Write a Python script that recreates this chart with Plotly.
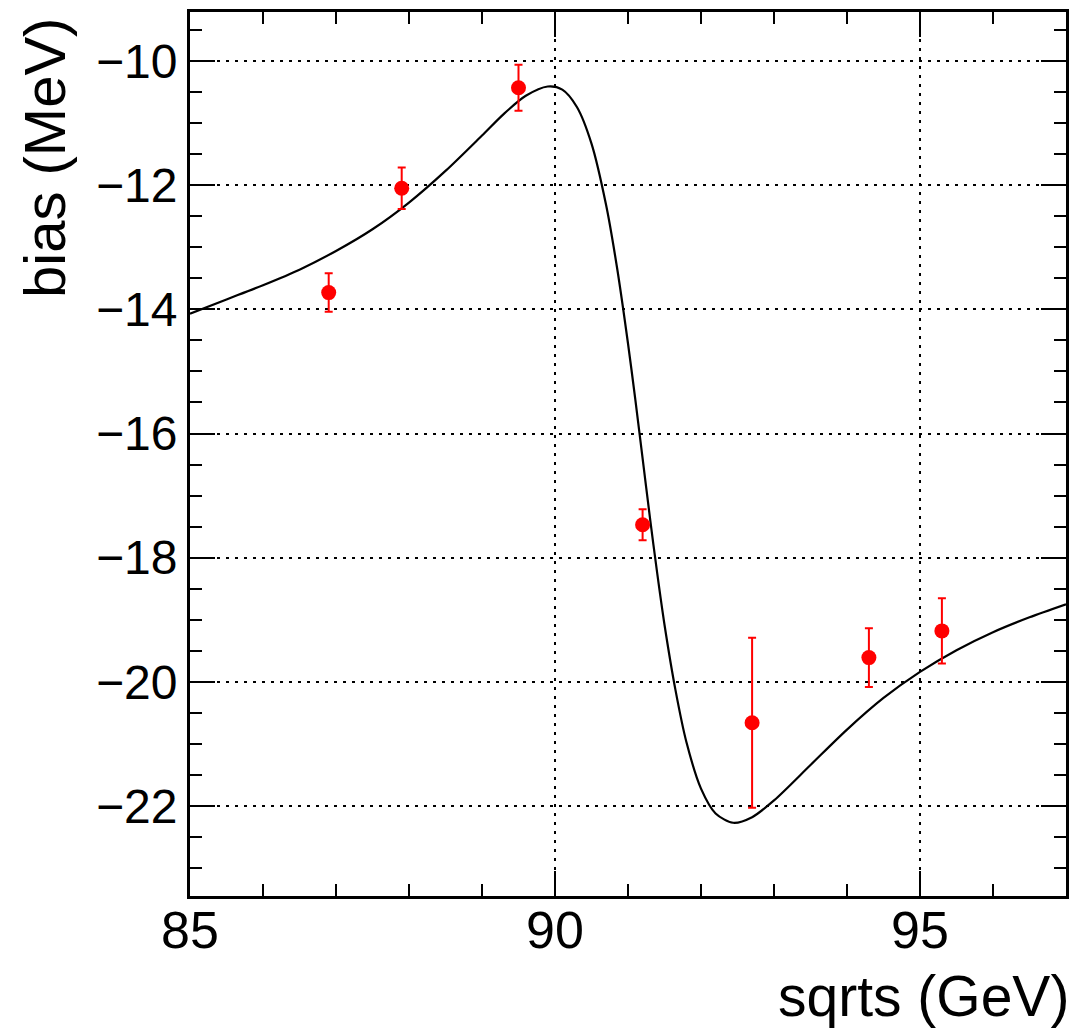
import plotly.graph_objects as go

# Measured points
sqrts = [86.9, 87.9, 89.5, 91.2, 92.7, 94.3, 95.3]
bias = [-13.73, -12.05, -10.43, -17.47, -20.66, -19.61, -19.18]
bias_err = [0.31, 0.335, 0.37, 0.25, 1.37, 0.475, 0.525]

# Fitted curve
fit_x = [85.0, 85.5, 86.0, 86.5, 87.0, 87.5, 88.0, 88.5, 89.0, 89.3, 89.6, 89.9,
         90.1, 90.3, 90.5, 90.7, 90.85, 91.0, 91.1, 91.2, 91.3, 91.4, 91.5, 91.65,
         91.8, 92.0, 92.2, 92.44, 92.7, 93.0, 93.5, 94.0, 94.5, 95.0, 95.5, 96.0,
         96.5, 97.0]
fit_y = [-14.07, -13.84, -13.61, -13.36, -13.06, -12.71, -12.28, -11.77, -11.20,
         -10.85, -10.56, -10.41, -10.46, -10.74, -11.33, -12.32, -13.33, -14.55,
         -15.45, -16.40, -17.35, -18.25, -19.08, -20.13, -20.97, -21.72, -22.12,
         -22.27, -22.18, -21.91, -21.34, -20.77, -20.26, -19.84, -19.49, -19.20,
         -18.96, -18.75]

x_range = [85, 97]
y_range = [-23.45, -9.21]

FONT = "Liberation Sans, Arial, Helvetica, sans-serif"

fig = go.Figure()
fig.add_trace(go.Scatter(
    x=fit_x, y=fit_y, mode="lines",
    line=dict(color="black", width=2.2, shape="spline", smoothing=0.8),
    hoverinfo="skip", showlegend=False))
fig.add_trace(go.Scatter(
    x=sqrts, y=bias, mode="markers",
    marker=dict(color="red", size=15, symbol="circle"),
    error_y=dict(type="data", array=bias_err, color="red", thickness=2, width=4),
    showlegend=False))

axis_common = dict(
    showline=True, linecolor="black", linewidth=3, mirror="ticks",
    ticks="inside", tickcolor="black", tickwidth=2, ticklen=25,
    showgrid=True, gridcolor="black", gridwidth=2, griddash="3px,6px",
    zeroline=False,
)

fig.update_xaxes(
    range=x_range, dtick=5, tick0=85,
    tickfont=dict(family=FONT, size=52, color="black"),
    ticklabelstandoff=-13,
    minor=dict(dtick=1, ticks="inside", ticklen=12, tickwidth=2, tickcolor="black", showgrid=False),
    **axis_common)
fig.update_yaxes(
    range=y_range, dtick=2, tick0=-10,
    tickfont=dict(family=FONT, size=48, color="black"),
    minor=dict(dtick=0.5, ticks="inside", ticklen=12, tickwidth=2, tickcolor="black", showgrid=False),
    **axis_common)

fig.add_annotation(text="sqrts (GeV)", xref="paper", yref="paper",
                   x=1.006, y=-0.152, xanchor="right", yanchor="bottom",
                   showarrow=False, font=dict(family=FONT, size=57, color="black"))
fig.add_annotation(text="bias (MeV)", xref="paper", yref="paper",
                   x=-0.166, y=0.995, xanchor="center", yanchor="top", textangle=-90,
                   showarrow=False, font=dict(family=FONT, size=58, color="black"))

fig.update_layout(
    width=1079, height=1032,
    margin=dict(l=190, r=13, t=9, b=136),
    paper_bgcolor="white", plot_bgcolor="white",
    font=dict(family=FONT, color="black"),
)

fig.write_html("out.html")
